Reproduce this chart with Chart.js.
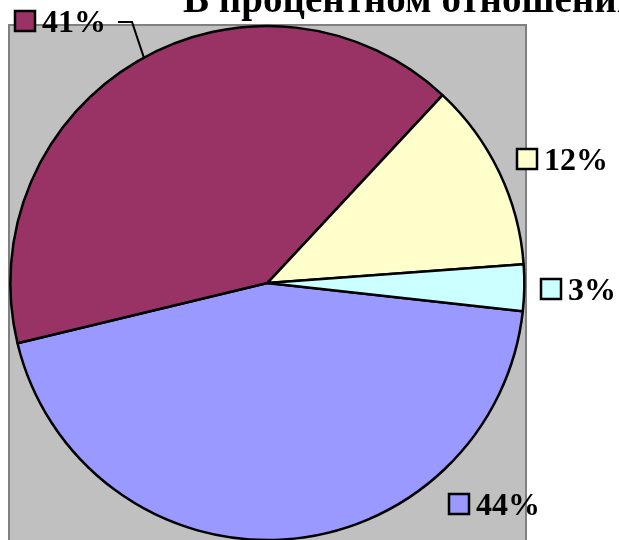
<!DOCTYPE html>
<html>
<head>
<meta charset="utf-8">
<script src="https://cdn.jsdelivr.net/npm/chart.js@4.4.0/dist/chart.umd.min.js"></script>
<style>
  html, body { margin: 0; padding: 0; background: #ffffff; overflow: hidden; }
  #wrap { position: absolute; left: 0; top: 0; width: 619px; height: 560px; }
</style>
</head>
<body>
<div id="wrap"><canvas id="c"></canvas></div>
<script>
// ---- data ----
const titleText = "В процентном отношении";
const categories = ["Категория 1", "Категория 2", "Категория 3", "Категория 4"];
const values = [44.49, 40.7, 11.9, 2.91];
const sliceColors = ["#9999FF", "#993366", "#FFFFCC", "#CCFFFF"];

// label placement (style only): key square top-left, text follows
const labelPos = [
  { x: 449, y: 494 },
  { x: 15, y: 11 },
  { x: 517, y: 149 },
  { x: 541, y: 279 }
];

const FONT = 'bold 32px "Liberation Serif", "Times New Roman", serif';

const bgPlugin = {
  id: 'plotBg',
  beforeDraw(chart) {
    const ctx = chart.ctx;
    ctx.save();
    ctx.fillStyle = '#C0C0C0';
    ctx.fillRect(9, 25, 517, 560);
    ctx.strokeStyle = '#808080';
    ctx.lineWidth = 2;
    ctx.strokeRect(9, 25, 517, 560);
    ctx.restore();
  }
};

const labelPlugin = {
  id: 'pctLabels',
  afterDraw(chart) {
    const ctx = chart.ctx;
    const meta = chart.getDatasetMeta(0);
    const total = values.reduce((a, b) => a + b, 0);
    ctx.save();
    // leader line for the second category
    const arc = meta.data[1];
    ctx.strokeStyle = '#000';
    ctx.lineWidth = 2;
    ctx.beginPath();
    ctx.moveTo(118, 22);
    ctx.lineTo(132, 22);
    const ang = Math.atan2(56 - arc.y, 143 - arc.x);
    ctx.lineTo(arc.x + Math.cos(ang) * arc.outerRadius, arc.y + Math.sin(ang) * arc.outerRadius);
    ctx.stroke();

    ctx.font = FONT;
    ctx.textBaseline = 'alphabetic';
    ctx.textAlign = 'left';
    values.forEach((v, i) => {
      const p = labelPos[i];
      ctx.fillStyle = sliceColors[i];
      ctx.fillRect(p.x, p.y, 20, 20);
      ctx.strokeStyle = '#000';
      ctx.lineWidth = 2.5;
      ctx.strokeRect(p.x, p.y, 20, 20);
      ctx.fillStyle = '#000';
      ctx.fillText(Math.round(v / total * 100) + '%', p.x + 27, p.y + 20.5);
    });

    // title
    ctx.font = 'bold 39px "Liberation Serif", "Times New Roman", serif';
    ctx.fillText(titleText, 183, 12);
    ctx.restore();
  }
};

new Chart(document.getElementById('c'), {
  type: 'pie',
  data: {
    labels: categories,
    datasets: [{
      data: values,
      backgroundColor: sliceColors,
      borderColor: '#000000',
      borderWidth: 2.5,
      hoverOffset: 0
    }]
  },
  options: {
    responsive: true,
    maintainAspectRatio: false,
    animation: false,
    rotation: 96.3,
    layout: { padding: { left: 9.1, top: 24.8, right: 93.4, bottom: 18.7 } },
    plugins: {
      legend: { display: false },
      title: { display: false },
      tooltip: { enabled: false }
    }
  },
  plugins: [bgPlugin, labelPlugin]
});
</script>
</body>
</html>
